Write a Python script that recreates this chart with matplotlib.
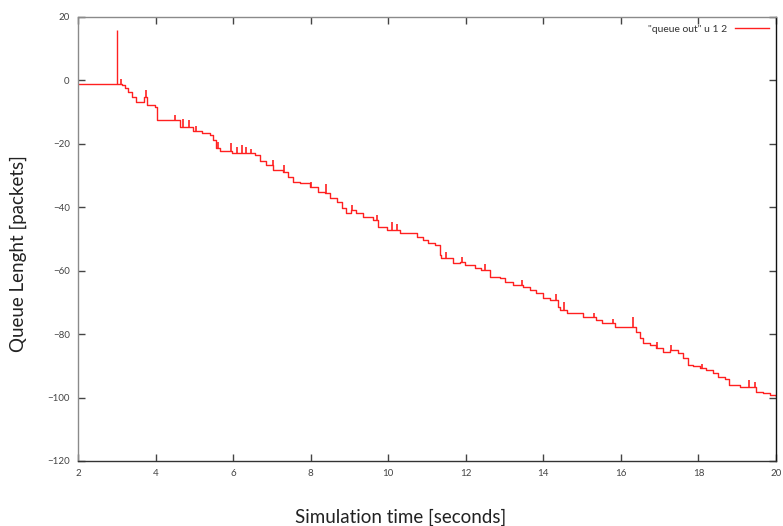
import numpy as np
import matplotlib
matplotlib.use("Agg")
import matplotlib.pyplot as plt

# staircase (time [s], queue length [packets])
time_s = [2.00, 3.00, 3.13, 3.21, 3.29, 3.38, 3.49, 3.70, 3.77, 3.98,
          4.03, 4.28, 4.63, 4.96, 5.19, 5.40, 5.48, 5.57, 5.66, 5.96,
          6.43, 6.56, 6.69, 6.86, 7.03, 7.29, 7.42, 7.55, 7.72, 7.98,
          8.19, 8.37, 8.49, 8.67, 8.80, 8.92, 9.05, 9.18, 9.35, 9.61,
          9.74, 9.96, 10.30, 10.64, 10.73, 10.90, 11.03, 11.20, 11.33, 11.37,
          11.67, 11.85, 11.97, 12.23, 12.40, 12.62, 12.88, 13.01, 13.22, 13.48,
          13.65, 13.82, 13.99, 14.16, 14.38, 14.42, 14.60, 14.85, 15.02, 15.24,
          15.37, 15.50, 15.84, 16.14, 16.31, 16.40, 16.48, 16.57, 16.74, 16.91,
          17.08, 17.26, 17.47, 17.60, 17.73, 17.86, 18.03, 18.20, 18.37, 18.50,
          18.68, 18.80, 19.06, 19.36, 19.49, 19.66, 19.84, 20.00]
queue = [-1.0, -1.0, -1.5, -2.5, -3.6, -5.1, -6.7, -5.1, -7.7, -8.3,
         -12.5, -12.5, -14.6, -15.9, -16.7, -17.2, -18.8, -21.4, -22.2, -23.0,
         -23.0, -23.5, -25.3, -26.7, -28.2, -28.8, -30.4, -31.9, -32.5, -33.5,
         -35.1, -35.6, -37.2, -38.2, -40.3, -41.7, -40.9, -41.9, -43.0, -44.0,
         -46.1, -47.2, -48.0, -48.2, -49.3, -50.3, -51.4, -51.9, -55.0, -56.1,
         -57.7, -57.2, -58.2, -59.3, -59.8, -61.9, -62.4, -63.5, -64.5, -65.0,
         -66.1, -67.1, -68.7, -69.2, -71.4, -72.4, -73.4, -73.4, -74.5, -74.7,
         -75.6, -76.6, -77.7, -77.7, -77.7, -79.2, -81.3, -82.9, -83.4, -84.5,
         -85.5, -85.0, -86.1, -87.6, -89.7, -90.0, -90.8, -91.3, -92.4, -93.4,
         -94.0, -96.0, -96.6, -96.6, -98.2, -98.7, -99.2, -99.5]

# the start-up spike and the short jitter spikes on top of the staircase
startup_t = 3.0
startup_peak = 16.0
spike_t = [3.12, 3.75, 4.50, 4.72, 4.85, 5.05, 5.62, 5.95, 6.10, 6.22, 6.33, 6.45,
           7.02, 7.32, 8.02, 8.40, 9.06, 9.70, 10.10, 10.22, 11.50, 11.90, 12.50,
           13.45, 14.32, 14.52, 15.30, 15.80, 16.30, 16.92, 17.30, 18.10, 19.30, 19.45]
spike_h = [1.5, 2.0, 1.5, 2.5, 2.0, 1.5, 2.0, 2.5, 2.0, 2.5, 2.0, 1.5,
           1.5, 2.0, 1.5, 3.0, 1.5, 1.5, 2.5, 2.0, 2.0, 1.5, 2.0,
           1.5, 2.0, 2.5, 1.5, 1.5, 3.0, 2.0, 1.5, 1.5, 2.0, 1.5]

xticks = [2, 4, 6, 8, 10, 12, 14, 16, 18, 20]
yticks = [-120, -100, -80, -60, -40, -20, 0, 20]

plt.rcParams['font.family'] = ['Lato', 'DejaVu Sans']

fig = plt.figure(figsize=(7.83, 5.26), dpi=100)
ax = fig.add_axes([0.0996, 0.1236, 0.8915, 0.8441])

red = '#ff2020'
ax.plot(time_s, queue, drawstyle='steps-post', color=red, lw=1.0,
        label='"queue out" u 1 2')
ax.vlines(startup_t, queue[0], startup_peak, color=red, lw=1.0)

# spikes sit on the staircase value at their time
idx = np.searchsorted(time_s, spike_t, side='right') - 1
base = np.array(queue)[idx]
ax.vlines(spike_t, base, base + np.array(spike_h), color=red, lw=1.2)

ax.set_xlim(2, 20)
ax.set_ylim(-120, 20)
ax.set_xticks(xticks)
ax.set_yticks(yticks)
ax.tick_params(direction='in', top=True, right=True, length=5, width=1,
               labelsize=7, colors='#444444', pad=6)

for side in ['left', 'top']:
    ax.spines[side].set_color('#8a8a8a')
ax.spines['bottom'].set_color('#333333')
ax.spines['right'].set_color('#111111')
for s in ax.spines.values():
    s.set_linewidth(1.0)

leg = ax.legend(loc='upper right', frameon=False, fontsize=7.5,
                handlelength=3.2, markerfirst=False, borderaxespad=0.3)
for t in leg.get_texts():
    t.set_color('#333333')

fig.text(0.512, 0.017, 'Simulation time [seconds]', ha='center', va='center',
         fontsize=13.5, color='#222222')
fig.text(0.023, 0.517, 'Queue Lenght [packets]', ha='center', va='center',
         rotation=90, fontsize=13.5, color='#222222')

fig.savefig('out.png', dpi=100)
